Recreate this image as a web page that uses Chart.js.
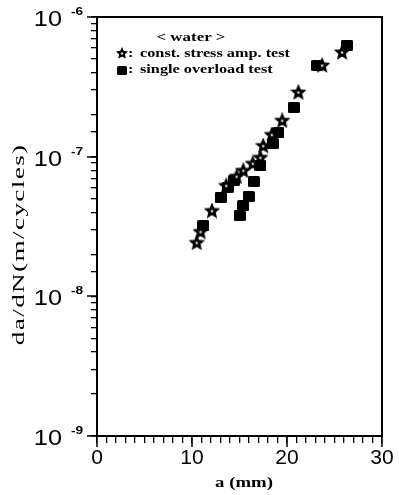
<!DOCTYPE html>
<html><head><meta charset="utf-8">
<script src="https://cdn.jsdelivr.net/npm/chart.js@4"></script>
<style>html,body{margin:0;padding:0;background:#fff}#w{width:399px;height:495px}</style>
</head><body><div id="w"><canvas id="c"></canvas></div>
<script>
// crack length a (mm) and da/dN (m/cycles)
const constA = [10.5, 10.9, 12.1, 13.6, 14.7, 15.4, 16.4, 17.2, 17.5, 18.4, 19.5, 21.2, 23.7, 25.8];
const constR = [2.43e-8, 2.91e-8, 4.11e-8, 6.22e-8, 7.23e-8, 7.98e-8, 8.96e-8, 9.89e-8, 1.20e-7, 1.44e-7, 1.82e-7, 2.90e-7, 4.52e-7, 5.61e-7];
const ovlA = [11.2, 13.0, 13.75, 14.4, 15.0, 15.4, 15.95, 16.5, 17.2, 18.5, 19.1, 20.7, 23.2, 26.3];
const ovlR = [3.21e-8, 5.11e-8, 6.03e-8, 6.77e-8, 3.79e-8, 4.47e-8, 5.19e-8, 6.65e-8, 8.67e-8, 1.24e-7, 1.49e-7, 2.26e-7, 4.52e-7, 6.30e-7];
const xMajor = [0, 10, 20, 30];
const yExponents = [-9, -8, -7, -6];
const legendTitle = '< water >';
const legendLabels = ['const. stress amp. test', 'single overload test'];
const xTitle = 'a (mm)';
const yTitle = 'da/dN(m/cycles)';

function starCanvas(R, r, lw) {
  const s = Math.ceil(2 * R + lw + 2);
  const c = document.createElement('canvas'); c.width = c.height = s;
  const g = c.getContext('2d');
  const cx = s / 2, cy = s / 2 + R * 0.1;
  g.beginPath();
  for (let i = 0; i < 10; i++) {
    const rad = i % 2 ? r : R;
    const ang = -Math.PI / 2 + i * Math.PI / 5;
    g.lineTo(cx + rad * Math.cos(ang), cy + rad * Math.sin(ang));
  }
  g.closePath();
  g.fillStyle = '#fff'; g.fill();
  g.lineWidth = lw; g.lineJoin = 'miter'; g.strokeStyle = '#000'; g.stroke();
  return c;
}
function squareCanvas(w, h) {
  const c = document.createElement('canvas'); c.width = w; c.height = h;
  const g = c.getContext('2d');
  g.fillStyle = '#000';
  g.beginPath(); g.roundRect(0, 0, w, h, 1.5); g.fill();
  return c;
}
const starImg = starCanvas(5.3, 2.4, 2.7);
const sqImg = squareCanvas(12, 11);
const starSm = starCanvas(4, 1.9, 2);
const sqSm = squareCanvas(10, 9);

// text drawn with horizontal stretch (the scanned figure is stretched)
function txt(ctx, s, x, y, font, sx, align, spacing) {
  ctx.save();
  ctx.translate(x, y); ctx.scale(sx, 1);
  ctx.font = font; ctx.textBaseline = 'middle'; ctx.textAlign = align;
  if (spacing) ctx.letterSpacing = spacing + 'px';
  ctx.fillText(s, align === 'center' && spacing ? spacing / 2 : 0, 0);
  ctx.restore();
}

const deco = {
  id: 'deco',
  afterDraw(chart) {
    const { ctx, chartArea: a, scales: { x, y } } = chart;
    ctx.save();
    ctx.strokeStyle = '#000'; ctx.lineWidth = 2;
    ctx.strokeRect(a.left, a.top, a.right - a.left, a.bottom - a.top);
    ctx.lineWidth = 1.5;
    ctx.beginPath();
    xMajor.forEach(v => { const px = Math.round(x.getPixelForValue(v)); ctx.moveTo(px, a.bottom); ctx.lineTo(px, a.bottom + 11); });
    yExponents.forEach(e => { const py = Math.round(y.getPixelForValue(Math.pow(10, e))); ctx.moveTo(a.left - 10, py); ctx.lineTo(a.left, py); });
    ctx.stroke();
    ctx.fillStyle = '#000';
    yExponents.forEach(e => {
      const py = y.getPixelForValue(Math.pow(10, e));
      txt(ctx, '10', 62, py + 3, '22px "Liberation Sans"', 1.15, 'right');
      txt(ctx, '-' + Math.abs(e), 71, py - 5, 'bold 11px "Liberation Sans"', 1.25, 'left');
    });
    // axis titles
    txt(ctx, xTitle, 244, 483, 'bold 15px "Liberation Serif"', 1.25, 'center');
    ctx.save(); ctx.translate(20, 245); ctx.rotate(-Math.PI / 2);
    txt(ctx, yTitle, 0, 0, '16px "Liberation Serif"', 1.7, 'center', 0.8);
    ctx.restore();
    // legend
    const lf = 'bold 13px "Liberation Serif"';
    txt(ctx, legendTitle, 191, 38, lf, 1.3, 'center');
    ctx.drawImage(starSm, 122 - starSm.width / 2, 53 - starSm.height / 2);
    txt(ctx, ':', 128, 54, lf, 1.25, 'left');
    txt(ctx, legendLabels[0], 140, 54, lf, 1.25, 'left');
    ctx.drawImage(sqSm, 117, 66);
    txt(ctx, ':', 128, 70, lf, 1.25, 'left');
    txt(ctx, legendLabels[1], 140, 70, lf, 1.25, 'left');
    ctx.restore();
  }
};

new Chart(document.getElementById('c'), {
  type: 'scatter',
  data: {
    datasets: [
      { label: legendLabels[0], data: constA.map((v, i) => ({ x: v, y: constR[i] })), pointStyle: starImg, pointRadius: 6 },
      { label: legendLabels[1], data: ovlA.map((v, i) => ({ x: v, y: ovlR[i] })), pointStyle: sqImg, pointRadius: 6 }
    ]
  },
  options: {
    responsive: true, maintainAspectRatio: false, animation: false,
    layout: { padding: { top: 17, right: 17, left: 0, bottom: 0 } },
    plugins: { legend: { display: false }, tooltip: { enabled: false } },
    scales: {
      x: {
        type: 'linear', min: 0, max: 30,
        afterFit(s) { s.height = 59; },
        ticks: { stepSize: 1, autoSkip: false, maxRotation: 0, padding: 3, color: '#000',
          font: { family: 'Liberation Sans', size: 21 },
          callback: v => (v % 10 === 0 ? String(v) : '') },
        grid: { drawOnChartArea: false, drawTicks: true, tickLength: 7, color: '#000', lineWidth: 1.3 },
        border: { display: true, color: '#000', width: 2 }
      },
      y: {
        type: 'logarithmic', min: 1e-9, max: 1e-6,
        afterFit(s) { s.width = 97; },
        ticks: { autoSkip: false, callback: () => '' },
        grid: { drawOnChartArea: false, drawTicks: true, tickLength: 6, color: '#000', lineWidth: 1.3 },
        border: { display: true, color: '#000', width: 2 }
      }
    }
  },
  plugins: [deco]
});
</script></body></html>
